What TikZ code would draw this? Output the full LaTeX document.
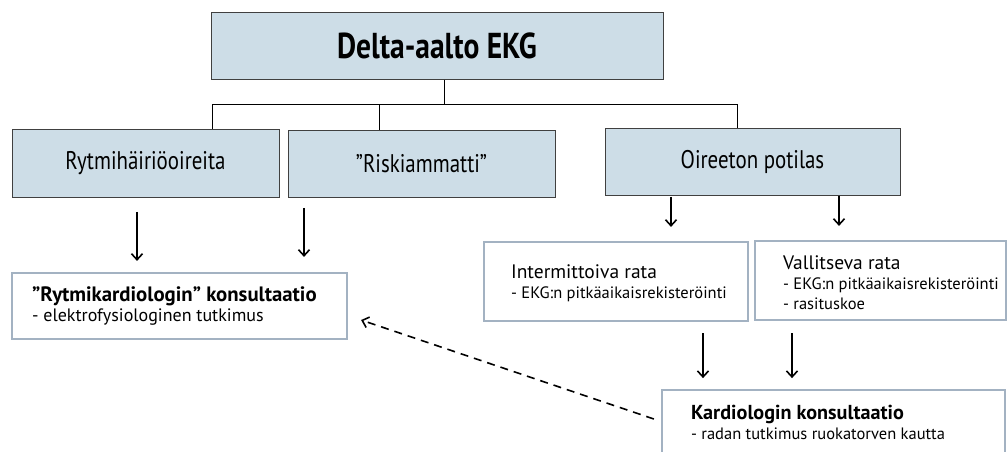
\documentclass[tikz,border=0pt]{standalone}
\usepackage{fontspec}
\setmainfont{PT Sans}
\newfontfamily\headfont{PT Sans}[FakeStretch=0.82]
\usetikzlibrary{positioning,arrows.meta}
\definecolor{boxfill}{RGB}{205,221,231}
\definecolor{boxline}{RGB}{64,64,64}
\definecolor{steel}{RGB}{163,178,194}
\tikzset{px/.style={x=1pt,y=-1pt}}
\tikzset{headbox/.style={draw=boxline,fill=boxfill,line width=1pt,inner sep=0pt,minimum height=67pt,
                         font=\headfont\fontsize{25.5}{28}\selectfont},
         notebox/.style={draw=steel,line width=2.2pt,inner sep=0pt},
         notetext/.style={inner sep=0pt,align=left,anchor=north west,font=\fontsize{19.5}{20}\selectfont},
         tree/.style={line width=1pt},
         arr/.style={line width=1.6pt,-{Straight Barb[length=6pt,width=11pt]}},
         backarr/.style={line width=1.6pt,dash pattern=on 8pt off 6pt,-{Straight Barb[length=6pt,width=11pt]}}}
\newcommand\sub[2][16.5]{{\fontsize{#1}{20}\selectfont #2}}
\newcommand\hdr[2][20.2]{{\fontsize{#1}{21}\selectfont\bfseries #2}}

\begin{document}
\begin{tikzpicture}[px]
    \useasboundingbox (0,0) rectangle (1007,451);
    % otsikko ja ensimmainen taso
    \node[headbox,minimum width=452pt,font=\headfont\fontsize{36}{40}\selectfont\bfseries] (ekg) at (437,45.5) {Delta-aalto EKG};
    \node[headbox,minimum width=267pt,minimum height=68pt] (oireita) at (145.5,163) {Rytmihäiriöoireita};
    \node[headbox,minimum width=267pt] (riski) at (421.5,163.5) {”Riskiammatti”};
    \node[headbox,minimum width=295pt] (oireeton) at (752.5,161.5) {Oireeton potilas};
    % alemmat laatikot
    \node[notebox,minimum width=335pt,minimum height=66pt] (rytmikard) at (179.5,306) {};
    \node[notebox,minimum width=264pt,minimum height=79pt] (intermit) at (616,281.5) {};
    \node[notebox,minimum width=251pt,minimum height=79pt] (vallits) at (880.5,280.5) {};
    \node[notebox,minimum width=343pt,minimum height=80pt] (kardio) at (833.5,430) {};
    \node[notetext,below right=15pt and 21pt of rytmikard.north west] (rytmikardtxt)
        {\hdr[20.8]{”Rytmikardiologin” konsultaatio}\\\sub[18]{- elektrofysiologinen tutkimus}};
    \node[notetext,below right=24pt and 28pt of intermit.north west] (intermittxt)
        {Intermittoiva rata\\\sub{- EKG:n pitkäaikaisrekisteröinti}};
    \node[notetext,below right=16pt and 29pt of vallits.north west] (vallitstxt)
        {Vallitseva rata\\\sub{- EKG:n pitkäaikaisrekisteröinti}\\\sub{- rasituskoe}};
    \node[notetext,below right=16pt and 30pt of kardio.north west] (kardiotxt)
        {\hdr{Kardiologin konsultaatio}\\\sub{- radan tutkimus ruokatorven kautta}};
    % puun viivat
    \draw[tree] ([xshift=7pt]ekg.south) -- ++(0,25) coordinate (haara);
    \draw[tree] ([xshift=66.5pt]oireita.north) |- (haara) -| ([xshift=-15.5pt]oireeton.north);
    \draw[tree] ([xshift=-42.5pt]riski.north) -- ++(0,-26);
    % nuolet
    \draw[arr] ([xshift=-42.5pt]rytmikard.north) ++(0,-60) -- ++(0,49);
    \draw[arr] ([xshift=124.5pt]rytmikard.north) ++(0,-64) -- ++(0,49);
    \draw[arr] ([xshift=55pt]intermit.north) ++(0,-44) -- ++(0,30);
    \draw[arr] ([xshift=-41.5pt]vallits.north) ++(0,-44) -- ++(0,30);
    \draw[arr] ([xshift=87pt]intermit.south) ++(0,11) -- ++(0,45);
    \draw[arr] ([xshift=-88.5pt]vallits.south) ++(0,12) -- ++(0,45);
    \draw[backarr] ([xshift=-7pt,yshift=11pt]kardio.west) -- ([xshift=13pt,yshift=-14pt]rytmikard.east);
\end{tikzpicture}
\end{document}
